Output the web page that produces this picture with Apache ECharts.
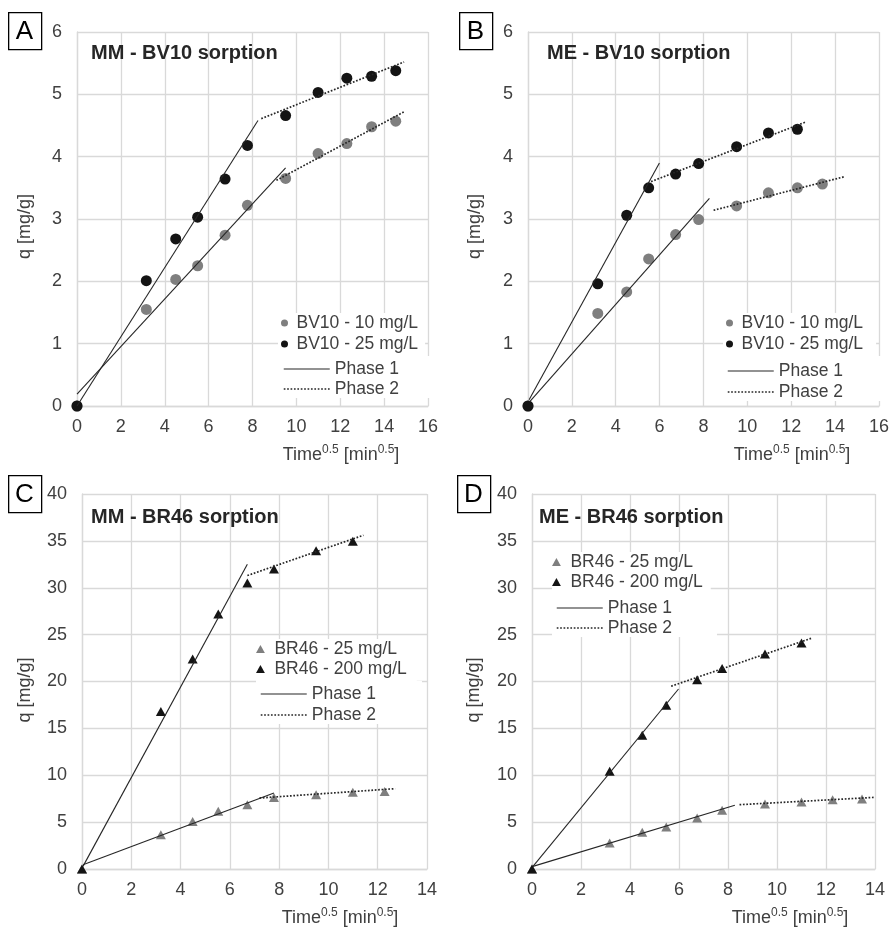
<!DOCTYPE html>
<html><head><meta charset="utf-8">
<script src="https://cdn.jsdelivr.net/npm/echarts@6/dist/echarts.min.js"></script>
<style>html,body{margin:0;padding:0;background:#fff}#c{width:892px;height:930px}</style>
</head><body><div id="c"></div>
<script>
// ---- Panel A: MM - BV10 ----
const tA = [0, 3.16, 4.5, 5.5, 6.75, 7.77, 9.51, 10.99, 12.3, 13.43, 14.53];
const qA10 = [0, 1.55, 2.03, 2.25, 2.74, 3.22, 3.65, 4.05, 4.21, 4.48, 4.57];
const qA25 = [0, 2.01, 2.68, 3.03, 3.64, 4.18, 4.66, 5.03, 5.26, 5.29, 5.38];
const fitA10p1 = [[0, 0.19], [9.51, 3.82]];
const fitA25p1 = [[0, 0.0], [8.25, 4.58]];
const fitA10p2 = [[9.09, 3.62], [14.91, 4.72]];
const fitA25p2 = [[8.4, 4.61], [14.91, 5.52]];
// ---- Panel B: ME - BV10 ----
const tB10 = [0, 3.18, 4.5, 5.5, 6.73, 7.78, 9.51, 10.96, 12.28, 13.42];
const qB10 = [0, 1.485, 1.83, 2.36, 2.75, 2.99, 3.21, 3.42, 3.50, 3.56];
const tB25 = [0, 3.18, 4.5, 5.5, 6.73, 7.78, 9.51, 10.96, 12.28];
const qB25 = [0, 1.96, 3.06, 3.50, 3.72, 3.89, 4.16, 4.38, 4.44];
const fitB10p1 = [[0.08, 0.07], [8.27, 3.33]];
const fitB25p1 = [[0.05, 0.10], [5.99, 3.90]];
const fitB10p2 = [[8.46, 3.14], [14.44, 3.68]];
const fitB25p2 = [[5.61, 3.60], [12.69, 4.56]];
// ---- Panel C: MM - BR46 ----
const tC25 = [0, 3.2, 4.49, 5.53, 6.71, 7.79, 9.5, 10.99, 12.28];
const qC25 = [0, 3.66, 5.08, 6.15, 6.86, 7.64, 7.93, 8.18, 8.28];
const tC200 = [0, 3.2, 4.49, 5.53, 6.71, 7.79, 9.5, 10.99];
const qC200 = [0, 16.8, 22.4, 27.2, 30.5, 32.0, 33.96, 34.95];
const fitC25p1 = [[0.04, 0.46], [7.79, 8.1]];
const fitC200p1 = [[0.04, 0.28], [6.71, 32.5]];
const fitC25p2 = [[7.2, 7.57], [12.71, 8.57]];
const fitC200p2 = [[6.71, 31.3], [11.42, 35.6]];
// ---- Panel D: ME - BR46 ----
const tD25 = [0, 3.17, 4.5, 5.48, 6.74, 7.76, 9.51, 11.0, 12.27, 13.47];
const qD25 = [0, 2.77, 3.91, 4.48, 5.44, 6.26, 6.93, 7.15, 7.4, 7.47];
const tD200 = [0, 3.17, 4.5, 5.48, 6.74, 7.76, 9.51, 11.0];
const qD200 = [0, 10.42, 14.26, 17.46, 20.2, 21.4, 22.93, 24.1];
const fitD25p1 = [[0.04, 0.28], [8.28, 6.79]];
const fitD200p1 = [[0.04, 0.28], [5.98, 19.2]];
const fitD25p2 = [[8.47, 6.86], [13.97, 7.64]];
const fitD200p2 = [[5.68, 19.5], [11.39, 24.6]];

const panelTitles = ['MM - BV10 sorption', 'ME - BV10 sorption', 'MM - BR46 sorption', 'ME - BR46 sorption'];
const panelLetters = ['A', 'B', 'C', 'D'];
const xMax = [16, 16, 14, 14];
const yMax = [6, 6, 40, 40];
const yStep = [1, 1, 5, 5];
const nameBV10 = ['BV10 - 10 mg/L', 'BV10 - 25 mg/L'];
const nameBR46 = ['BR46 - 25 mg/L', 'BR46 - 200 mg/L'];
const phaseNames = ['Phase 1', 'Phase 2'];

const FONT = "'Liberation Sans', Arial, sans-serif";
const GRAY = '#7f7f7f', BLACK = '#141414', LINE = '#262626', GRID = '#d9d9d9', TXT = '#404040';
const TRI = 'path://M5,0L10,9L0,9Z';

const grids = [
  {left: 77, top: 32, width: 351, height: 374},
  {left: 528, top: 32, width: 351, height: 374},
  {left: 82, top: 494, width: 345, height: 375},
  {left: 532, top: 494, width: 343, height: 375}
];
const xNamePad = [177, 177, 171, 173];
const yNameGap = [43, 44, 48, 49];
const yNamePad = [15, 15, 17, 17];

function pts(xs, ys) { return xs.map((x, i) => [x, ys[i]]); }

const rich = {
  a: {fontSize: 18, color: TXT, fontFamily: FONT, lineHeight: 22},
  b: {fontSize: 12, color: TXT, fontFamily: FONT, lineHeight: 16, verticalAlign: 'top'}
};

const xAxis = grids.map((g, i) => ({
  type: 'value', gridIndex: i, min: 0, max: xMax[i], interval: 2,
  axisLine: {show: true, lineStyle: {color: GRID, width: 1.3}},
  axisTick: {show: false},
  splitLine: {show: true, lineStyle: {color: GRID, width: 1.3}},
  axisLabel: {color: TXT, fontSize: 18, fontFamily: FONT, margin: 12},
  name: '{a|Time}{b|0.5}{a| [min}{b|0.5}{a|]}',
  nameLocation: 'middle', nameGap: 38,
  nameTextStyle: {padding: [0, 0, 0, xNamePad[i]], rich: rich}
}));
const yAxis = grids.map((g, i) => ({
  type: 'value', gridIndex: i, min: 0, max: yMax[i], interval: yStep[i],
  axisLine: {show: true, lineStyle: {color: GRID, width: 1.3}},
  axisTick: {show: false},
  splitLine: {show: true, lineStyle: {color: GRID, width: 1.3}},
  axisLabel: {color: TXT, fontSize: 18, fontFamily: FONT, margin: 15},
  name: 'q [mg/g]', nameLocation: 'middle', nameGap: yNameGap[i],
  nameTextStyle: {color: TXT, fontSize: 18, fontFamily: FONT, padding: [0, yNamePad[i], 0, 0]}
}));

function scat(name, i, data, color, tri) {
  return {type: 'scatter', name: name, xAxisIndex: i, yAxisIndex: i, data: data,
    symbol: tri ? 'triangle' : 'circle', symbolSize: tri ? [10, 9] : 11,
    itemStyle: {color: color, opacity: 1}, z: 2, animation: false};
}
function fit(phase, i, data) {
  return {type: 'line', name: phaseNames[phase], xAxisIndex: i, yAxisIndex: i, data: data,
    symbol: 'none', showSymbol: false, silent: true, z: 3, animation: false,
    itemStyle: {color: LINE},
    lineStyle: phase === 0 ? {color: LINE, width: 1.1, type: 'solid'} : {color: LINE, width: 1.7, type: [1.7, 1.7]}};
}

const series = [
  scat(nameBV10[0], 0, pts(tA, qA10), GRAY), scat(nameBV10[1], 0, pts(tA, qA25), BLACK),
  fit(0, 0, fitA10p1), fit(0, 0, fitA25p1), fit(1, 0, fitA10p2), fit(1, 0, fitA25p2),
  scat(nameBV10[0], 1, pts(tB10, qB10), GRAY), scat(nameBV10[1], 1, pts(tB25, qB25), BLACK),
  fit(0, 1, fitB10p1), fit(0, 1, fitB25p1), fit(1, 1, fitB10p2), fit(1, 1, fitB25p2),
  scat(nameBR46[0], 2, pts(tC25, qC25), GRAY, true), scat(nameBR46[1], 2, pts(tC200, qC200), BLACK, true),
  fit(0, 2, fitC25p1), fit(0, 2, fitC200p1), fit(1, 2, fitC25p2), fit(1, 2, fitC200p2),
  scat(nameBR46[0], 3, pts(tD25, qD25), GRAY, true), scat(nameBR46[1], 3, pts(tD200, qD200), BLACK, true),
  fit(0, 3, fitD25p1), fit(0, 3, fitD200p1), fit(1, 3, fitD25p2), fit(1, 3, fitD200p2)
];

const lTxt = {fontSize: 17.5, color: TXT, fontFamily: FONT, lineHeight: 18};
function markLegend(left, top, pad, gap, names, tri) {
  return {orient: 'vertical', left: left, top: top, padding: pad, itemGap: gap,
    itemWidth: tri ? 18 : 14, itemHeight: tri ? 8 : 7, backgroundColor: '#fff',
    textStyle: lTxt, selectedMode: false,
    data: names.map(n => tri ? {name: n, icon: TRI} : {name: n})};
}
function lineLegend(left, top, pad, gap) {
  return {orient: 'vertical', left: left, top: top, padding: pad, itemGap: gap,
    itemWidth: 46, itemHeight: 14, backgroundColor: '#fff', textStyle: lTxt, selectedMode: false,
    data: [
      {name: phaseNames[0], itemStyle: {opacity: 0}, lineStyle: {width: 1.1}},
      {name: phaseNames[1], itemStyle: {opacity: 0}, lineStyle: {width: 1.5}}
    ]};
}
const legend = [
  markLegend(278, 313, [1, 7, 3, 3], 3, nameBV10, false),
  lineLegend(277, 356, [4, 31, 0, 6], 2),
  markLegend(723, 313, [1, 13, 3, 3], 3, nameBV10, false),
  lineLegend(721, 356, [6, 38, 0, 6], 3),
  markLegend(256, 639, [1, 10, 3, 0], 2, nameBR46, true),
  lineLegend(256, 681, [4, 46, 0, 4], 3),
  markLegend(552, 552, [1, 8, 3, 0], 2, nameBR46, true),
  lineLegend(552, 594, [5, 45, 0, 4], 2)
];

const titlePos = [[91, 43], [547, 43], [91, 507], [539, 507]];
const title = panelTitles.map((t, i) => ({text: t, left: titlePos[i][0], top: titlePos[i][1], padding: 0,
  textStyle: {fontSize: 20, fontWeight: 'bold', color: LINE, fontFamily: FONT}}));

const boxPos = [[8, 12], [459, 12], [8, 475], [457, 475]];
const graphic = [];
panelLetters.forEach((L, i) => {
  graphic.push({type: 'rect', left: boxPos[i][0], top: boxPos[i][1], shape: {width: 33, height: 37},
    style: {fill: '#fff', stroke: '#000', lineWidth: 1.3}, z: 10});
  graphic.push({type: 'text', x: boxPos[i][0] + 16.5, y: boxPos[i][1] + 19.5, z: 11,
    style: {text: L, fontSize: 26, fontFamily: FONT, fill: '#000', align: 'center', verticalAlign: 'middle'}});
});

const chart = echarts.init(document.getElementById('c'), null, {renderer: 'canvas'});
chart.setOption({
  backgroundColor: '#fff', animation: false,
  grid: grids, xAxis: xAxis, yAxis: yAxis, series: series, legend: legend, title: title, graphic: graphic
});
</script></body></html>
